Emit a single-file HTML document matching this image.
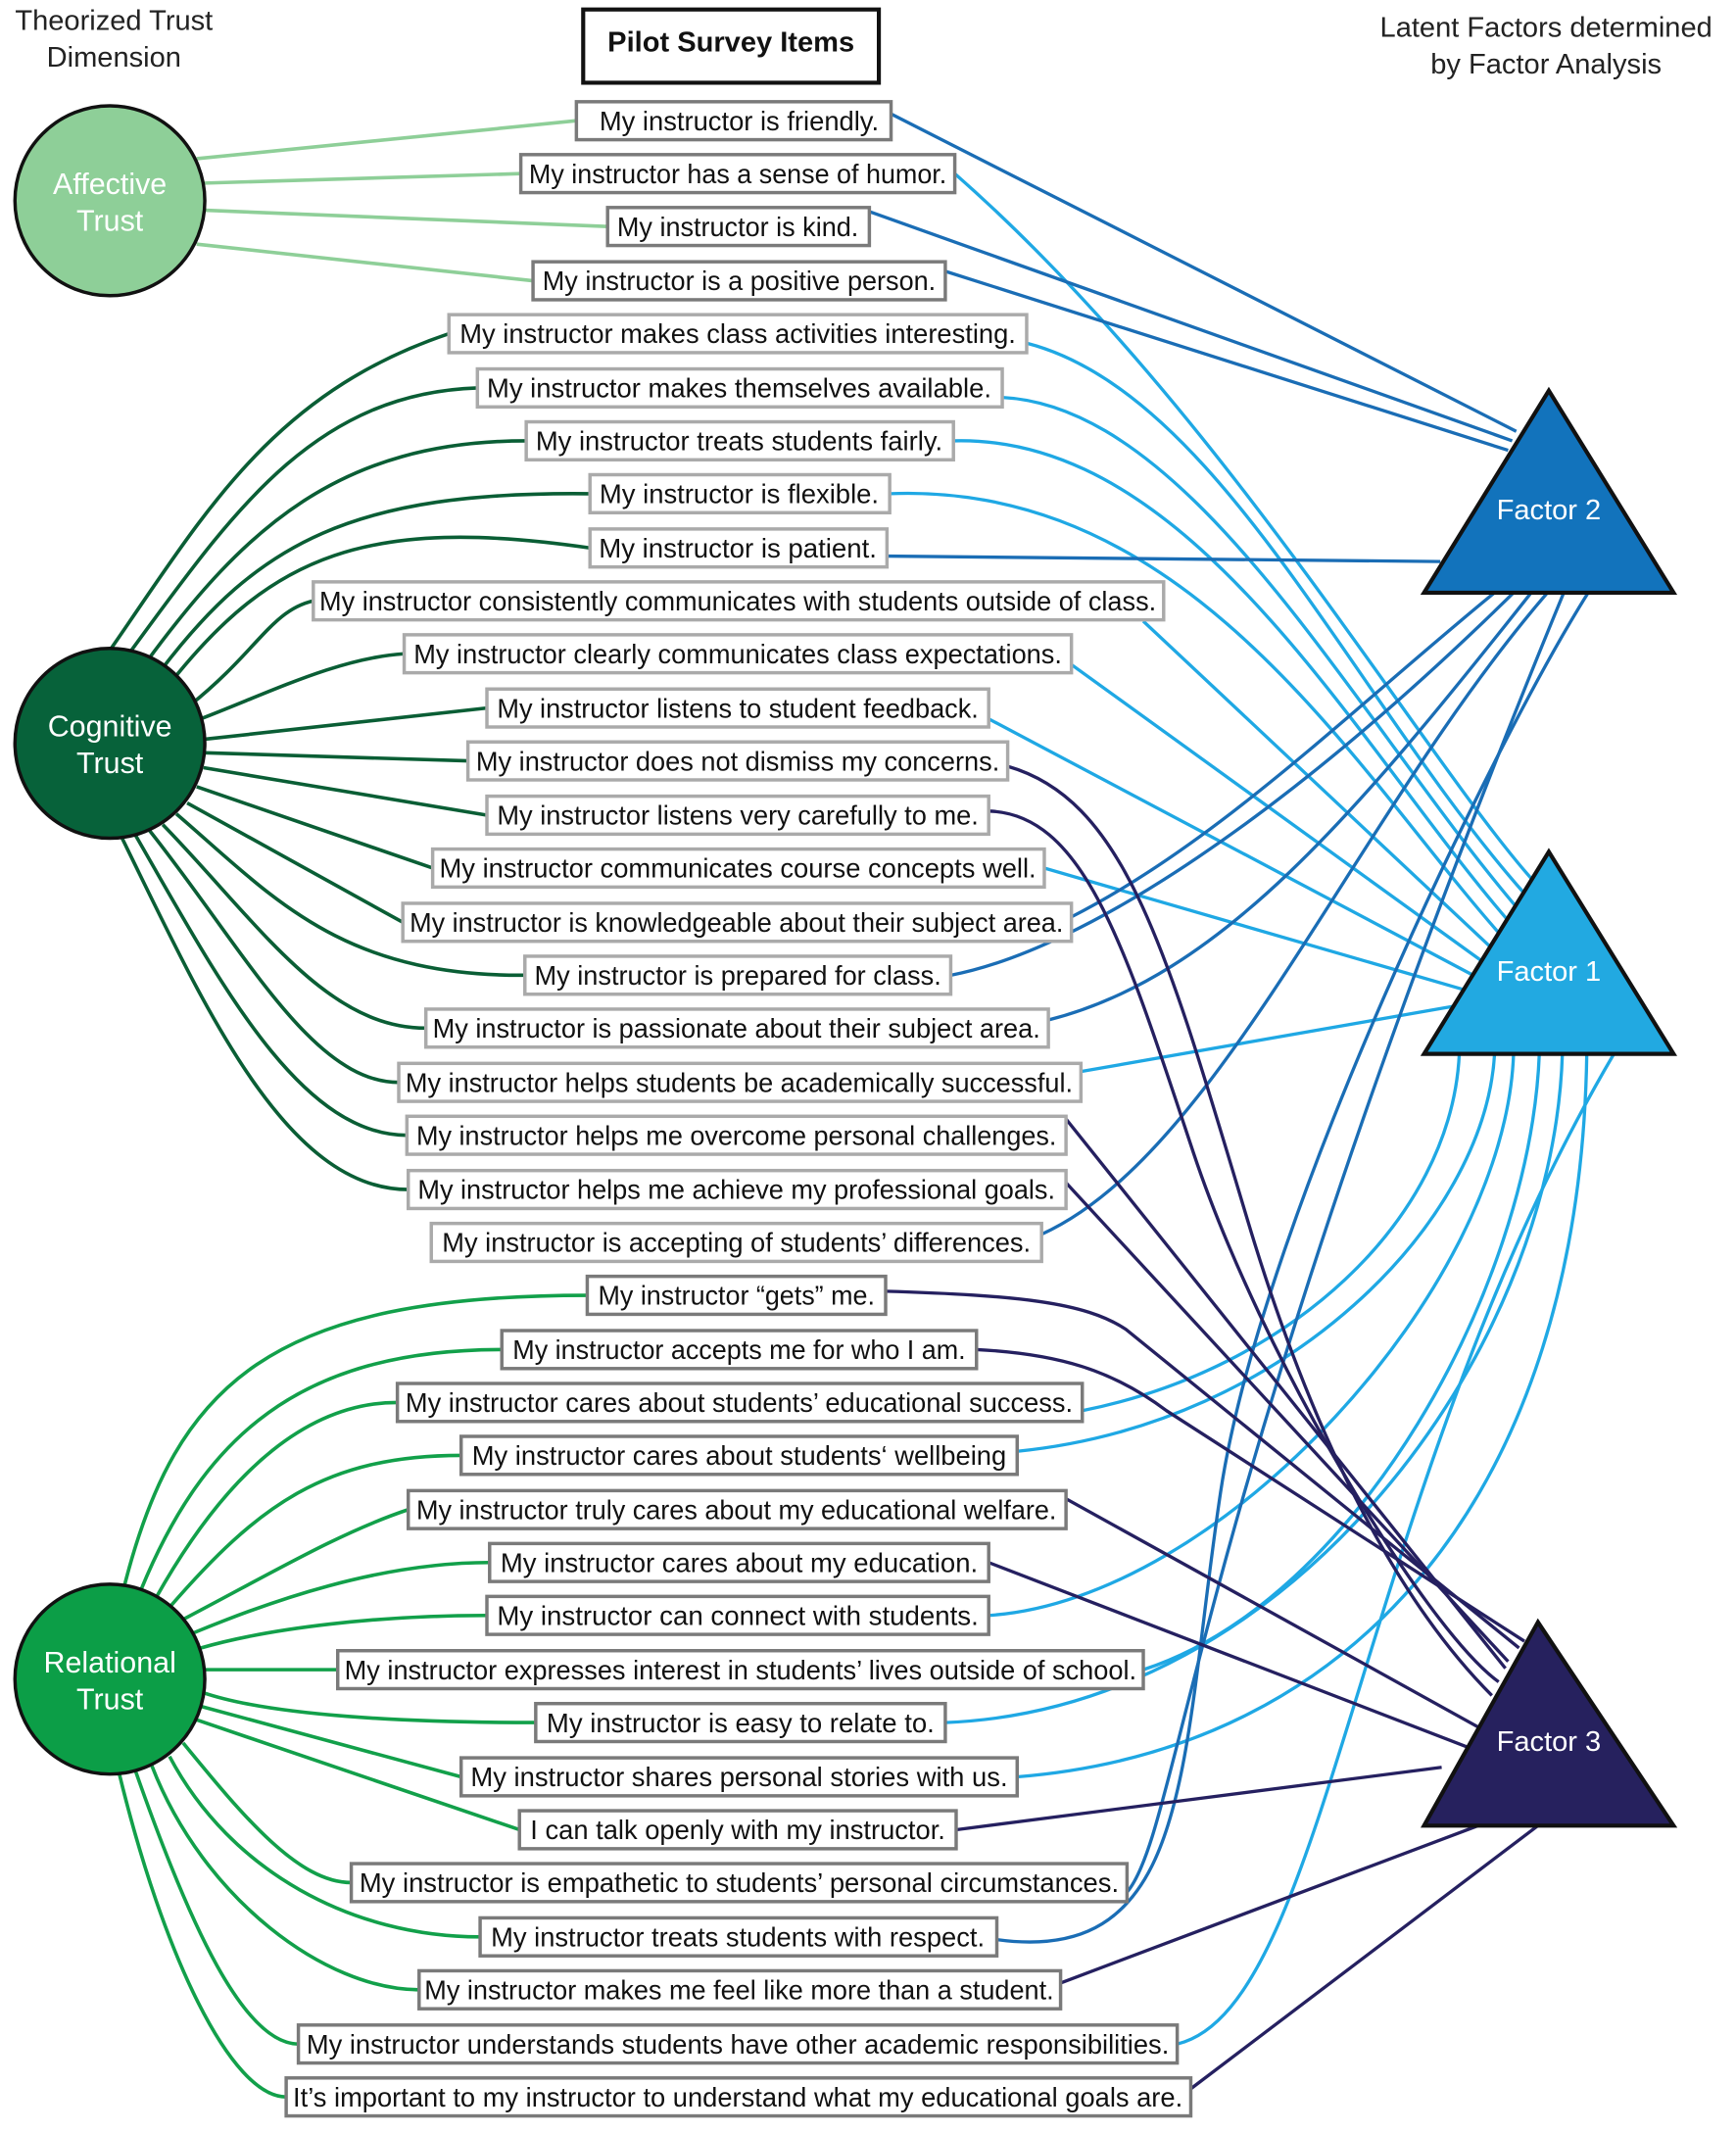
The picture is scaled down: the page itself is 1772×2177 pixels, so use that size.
<!DOCTYPE html>
<html><head><meta charset="utf-8"><style>html,body{margin:0;padding:0;background:#fff}svg{display:block}</style></head>
<body>
<svg width="1772" height="2177" viewBox="0 0 1280 1572.6" xmlns="http://www.w3.org/2000/svg" font-family="Liberation Sans, Arial, sans-serif">
<rect width="1280" height="1573" fill="#fff"/>
<text x="84" y="22" font-size="21" text-anchor="middle" fill="#222">Theorized Trust</text>
<text x="84" y="49" font-size="21" text-anchor="middle" fill="#222">Dimension</text>
<text x="1140" y="27" font-size="21" text-anchor="middle" fill="#222">Latent Factors determined</text>
<text x="1140" y="54" font-size="21" text-anchor="middle" fill="#222">by Factor Analysis</text>
<rect x="430" y="7" width="218" height="54" fill="#fff" stroke="#111" stroke-width="3"/>
<text x="539" y="38" font-size="21" font-weight="bold" text-anchor="middle" fill="#111">Pilot Survey Items</text>

<g fill="none" stroke-width="2.6">
<g stroke="#8ecf98">
<path d="M145,117 L425,89"/><path d="M151,135 L384,128"/><path d="M151,155 L448,167"/><path d="M145,180 L393,207"/>
</g>
<g stroke="#0a5e35">
<path d="M82,478 C150,380 200,290 331,246"/>
<path d="M95,482 C170,380 230,290 352,286"/>
<path d="M108,488 C180,390 250,325 388,325"/>
<path d="M118,495 C190,400 260,362 435,364"/>
<path d="M126,503 C200,410 270,380 435,404"/>
<path d="M140,520 C190,480 200,450 231,443"/>
<path d="M148,530 C200,510 250,485 298,482"/>
<path d="M151,545 L359,522"/>
<path d="M151,555 L345,561"/>
<path d="M150,566 L359,601"/>
<path d="M145,580 L319,640"/>
<path d="M138,592 L297,680"/>
<path d="M130,600 C200,660 250,720 387,719"/>
<path d="M120,608 C190,680 240,758 314,758"/>
<path d="M110,612 C180,700 230,798 294,798"/>
<path d="M100,616 C160,720 220,837 300,837"/>
<path d="M90,618 C150,740 210,877 301,877"/>
</g>
<g stroke="#12a04a">
<path d="M92,1168 C130,1020 200,955 433,955"/>
<path d="M104,1172 C150,1060 220,995 370,995"/>
<path d="M115,1178 C170,1080 230,1034 293,1034"/>
<path d="M125,1185 C190,1110 240,1073 340,1073"/>
<path d="M133,1195 C200,1160 250,1130 301,1113"/>
<path d="M140,1205 C200,1180 280,1152 361,1152"/>
<path d="M148,1215 C200,1200 280,1191 359,1191"/>
<path d="M151,1231 L249,1231"/>
<path d="M150,1248 C200,1265 300,1270 395,1270"/>
<path d="M148,1258 L340,1310"/>
<path d="M145,1268 L383,1349"/>
<path d="M135,1285 C180,1340 220,1388 259,1388"/>
<path d="M125,1295 C170,1380 260,1428 354,1428"/>
<path d="M112,1302 C150,1400 240,1467 309,1467"/>
<path d="M100,1306 C140,1420 180,1507 220,1507"/>
<path d="M88,1308 C120,1440 170,1546 211,1546"/>
</g>
</g>

<g fill="none" stroke-width="2.4">
<g stroke="#1fa8e4">
<path d="M704,128 C900,300 1050,560 1132,651"/>
<path d="M757,253 C900,290 1000,520 1126,661"/>
<path d="M739,293 C880,300 1000,530 1120,671"/>
<path d="M703,325 C880,320 1000,550 1114,681"/>
<path d="M656,364 C880,355 1000,570 1108,691"/>
<path d="M843,458 L1102,701"/>
<path d="M790,490 L1096,711"/>
<path d="M729,530 L1090,721"/>
<path d="M770,640 L1084,731"/>
<path d="M797,790 L1077,741"/>
<path d="M798,1040 C950,1010 1070,900 1076,777"/>
<path d="M750,1070 C950,1050 1095,900 1102,777"/>
<path d="M729,1191 C900,1180 1110,950 1116,777"/>
<path d="M843,1231 C1000,1180 1128,950 1135,777"/>
<path d="M697,1270 C950,1260 1145,1000 1152,777"/>
<path d="M750,1310 C1000,1290 1165,1100 1170,777"/>
<path d="M868,1507 C980,1480 1000,1100 1190,777"/>
</g>
<g stroke="#1a6db5">
<path d="M657,84 L1118,318"/>
<path d="M641,156 L1115,325"/>
<path d="M697,200 L1112,332"/>
<path d="M654,410 L1062,414"/>
<path d="M790,676 C900,620 1000,520 1102,437"/>
<path d="M701,719 C800,700 950,600 1116,437"/>
<path d="M773,752 C900,720 1000,600 1129,437"/>
<path d="M768,910 C900,850 1000,600 1141,437"/>
<path d="M831,1395 C870,1350 880,1100 1153,437"/>
<path d="M735,1430 C880,1450 870,1300 900,1100 S1100,550 1171,437"/>
</g>
<g stroke="#252060">
<path d="M743,565 C830,590 860,700 920,900 S1050,1200 1100,1250"/>
<path d="M729,598 C800,600 830,700 880,850 S1050,1200 1105,1240"/>
<path d="M786,825 L1110,1230"/>
<path d="M786,872 L1112,1225"/>
<path d="M653,952 C750,955 800,960 830,980 L1120,1215"/>
<path d="M720,995 C780,998 820,1010 860,1040 L1124,1210"/>
<path d="M786,1105 L1093,1275"/>
<path d="M729,1152 L1087,1290"/>
<path d="M705,1349 L1063,1303"/>
<path d="M782,1462 L1090,1346"/>
<path d="M878,1540 L1134,1346"/>
</g>
</g>

<g stroke="#111" stroke-width="2.5">
<circle cx="81" cy="148" r="70" fill="#8ecf98"/>
<circle cx="81" cy="548" r="70" fill="#07623a"/>
<circle cx="81" cy="1238" r="70" fill="#0c9e47"/>
</g>
<g font-size="22" fill="#fff" text-anchor="middle">
<text x="81" y="143">Affective</text><text x="81" y="170">Trust</text>
<text x="81" y="543">Cognitive</text><text x="81" y="570">Trust</text>
<text x="81" y="1233">Relational</text><text x="81" y="1260">Trust</text>
</g>

<g stroke="#111" stroke-width="3">
<polygon points="1142,288 1050,437 1234,437" fill="#1273bc"/>
<polygon points="1142,628 1050,777 1234,777" fill="#22a9e1"/>
<polygon points="1134,1196 1050,1346 1234,1346" fill="#26215e"/>
</g>
<g font-size="21" fill="#fff" text-anchor="middle">
<text x="1142" y="383">Factor 2</text>
<text x="1142" y="723">Factor 1</text>
<text x="1142" y="1291">Factor 3</text>
</g>

<g font-size="20" fill="#111" stroke-width="2.5">
<g stroke="#7a7a7a" fill="#fff">
<rect x="425" y="75" width="232" height="28"/>
<rect x="384" y="114" width="320" height="28"/>
<rect x="448" y="153" width="193" height="28"/>
<rect x="393" y="193" width="304" height="28"/>
</g>
<g stroke="#aaaaaa" fill="#fff">
<rect x="331" y="232" width="426" height="28"/>
<rect x="352" y="272" width="387" height="28"/>
<rect x="388" y="311" width="315" height="28"/>
<rect x="435" y="350" width="221" height="28"/>
<rect x="435" y="390" width="219" height="28"/>
<rect x="231" y="429" width="627" height="28"/>
<rect x="298" y="468" width="492" height="28"/>
<rect x="359" y="508" width="370" height="28"/>
<rect x="345" y="547" width="398" height="28"/>
<rect x="359" y="587" width="370" height="28"/>
<rect x="319" y="626" width="451" height="28"/>
<rect x="297" y="666" width="493" height="28"/>
<rect x="387" y="705" width="314" height="28"/>
<rect x="314" y="744" width="459" height="28"/>
<rect x="294" y="784" width="503" height="28"/>
<rect x="300" y="823" width="486" height="28"/>
<rect x="301" y="863" width="485" height="28"/>
<rect x="318" y="902" width="450" height="28"/>
</g>
<g stroke="#7a7a7a" fill="#fff">
<rect x="433" y="941" width="220" height="28"/>
<rect x="370" y="981" width="350" height="28"/>
<rect x="293" y="1020" width="505" height="28"/>
<rect x="340" y="1059" width="410" height="28"/>
<rect x="301" y="1099" width="485" height="28"/>
<rect x="361" y="1138" width="368" height="28"/>
<rect x="359" y="1177" width="370" height="28"/>
<rect x="249" y="1217" width="594" height="28"/>
<rect x="395" y="1256" width="302" height="28"/>
<rect x="340" y="1296" width="410" height="28"/>
<rect x="383" y="1335" width="322" height="28"/>
<rect x="259" y="1374" width="572" height="28"/>
<rect x="354" y="1414" width="381" height="28"/>
<rect x="309" y="1453" width="473" height="28"/>
<rect x="220" y="1493" width="648" height="28"/>
<rect x="211" y="1532" width="667" height="28"/>
</g>
<g text-anchor="middle" stroke="none" lengthAdjust="spacingAndGlyphs">
<text x="545" y="96" textLength="206" lengthAdjust="spacingAndGlyphs">My instructor is friendly.</text>
<text x="544" y="135" textLength="308" lengthAdjust="spacingAndGlyphs">My instructor has a sense of humor.</text>
<text x="544" y="174" textLength="178" lengthAdjust="spacingAndGlyphs">My instructor is kind.</text>
<text x="545" y="214" textLength="290" lengthAdjust="spacingAndGlyphs">My instructor is a positive person.</text>
<text x="544" y="253" textLength="410" lengthAdjust="spacingAndGlyphs">My instructor makes class activities interesting.</text>
<text x="545" y="293" textLength="372" lengthAdjust="spacingAndGlyphs">My instructor makes themselves available.</text>
<text x="545" y="332" textLength="300" lengthAdjust="spacingAndGlyphs">My instructor treats students fairly.</text>
<text x="545" y="371" textLength="206" lengthAdjust="spacingAndGlyphs">My instructor is flexible.</text>
<text x="544" y="411" textLength="205" lengthAdjust="spacingAndGlyphs">My instructor is patient.</text>
<text x="544" y="450" textLength="617" lengthAdjust="spacingAndGlyphs">My instructor consistently communicates with students outside of class.</text>
<text x="544" y="489" textLength="478" lengthAdjust="spacingAndGlyphs">My instructor clearly communicates class expectations.</text>
<text x="544" y="529" textLength="355" lengthAdjust="spacingAndGlyphs">My instructor listens to student feedback.</text>
<text x="544" y="568" textLength="386" lengthAdjust="spacingAndGlyphs">My instructor does not dismiss my concerns.</text>
<text x="544" y="608" textLength="355" lengthAdjust="spacingAndGlyphs">My instructor listens very carefully to me.</text>
<text x="544" y="647" textLength="440" lengthAdjust="spacingAndGlyphs">My instructor communicates course concepts well.</text>
<text x="543" y="687" textLength="482" lengthAdjust="spacingAndGlyphs">My instructor is knowledgeable about their subject area.</text>
<text x="544" y="726" textLength="300" lengthAdjust="spacingAndGlyphs">My instructor is prepared for class.</text>
<text x="543" y="765" textLength="448" lengthAdjust="spacingAndGlyphs">My instructor is passionate about their subject area.</text>
<text x="545" y="805" textLength="492" lengthAdjust="spacingAndGlyphs">My instructor helps students be academically successful.</text>
<text x="543" y="844" textLength="472" lengthAdjust="spacingAndGlyphs">My instructor helps me overcome personal challenges.</text>
<text x="543" y="884" textLength="470" lengthAdjust="spacingAndGlyphs">My instructor helps me achieve my professional goals.</text>
<text x="543" y="923" textLength="434" lengthAdjust="spacingAndGlyphs">My instructor is accepting of students’ differences.</text>
<text x="543" y="962" textLength="204" lengthAdjust="spacingAndGlyphs">My instructor “gets” me.</text>
<text x="545" y="1002" textLength="334" lengthAdjust="spacingAndGlyphs">My instructor accepts me for who I am.</text>
<text x="545" y="1041" textLength="492" lengthAdjust="spacingAndGlyphs">My instructor cares about students’ educational success.</text>
<text x="545" y="1080" textLength="394" lengthAdjust="spacingAndGlyphs">My instructor cares about students‘ wellbeing</text>
<text x="543" y="1120" textLength="472" lengthAdjust="spacingAndGlyphs">My instructor truly cares about my educational welfare.</text>
<text x="545" y="1159" textLength="352" lengthAdjust="spacingAndGlyphs">My instructor cares about my education.</text>
<text x="544" y="1198" textLength="355" lengthAdjust="spacingAndGlyphs">My instructor can connect with students.</text>
<text x="546" y="1238" textLength="584" lengthAdjust="spacingAndGlyphs">My instructor expresses interest in students’ lives outside of school.</text>
<text x="546" y="1277" textLength="286" lengthAdjust="spacingAndGlyphs">My instructor is easy to relate to.</text>
<text x="545" y="1317" textLength="396" lengthAdjust="spacingAndGlyphs">My instructor shares personal stories with us.</text>
<text x="544" y="1356" textLength="306" lengthAdjust="spacingAndGlyphs">I can talk openly with my instructor.</text>
<text x="545" y="1395" textLength="560" lengthAdjust="spacingAndGlyphs">My instructor is empathetic to students’ personal circumstances.</text>
<text x="544" y="1435" textLength="364" lengthAdjust="spacingAndGlyphs">My instructor treats students with respect.</text>
<text x="545" y="1474" textLength="464" lengthAdjust="spacingAndGlyphs">My instructor makes me feel like more than a student.</text>
<text x="544" y="1514" textLength="636" lengthAdjust="spacingAndGlyphs">My instructor understands students have other academic responsibilities.</text>
<text x="544" y="1553" textLength="656" lengthAdjust="spacingAndGlyphs">It’s important to my instructor to understand what my educational goals are.</text>
</g>
</g>
</svg>
</body></html>
